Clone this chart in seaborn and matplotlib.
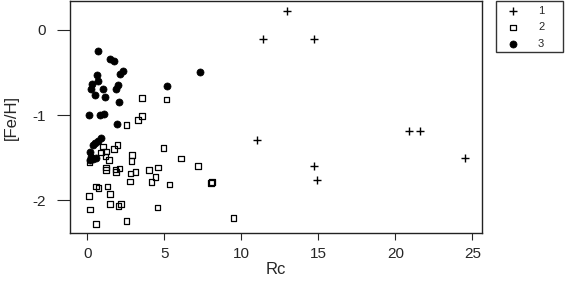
import matplotlib
matplotlib.use("Agg")
import matplotlib.pyplot as plt
from matplotlib.patches import Rectangle
import seaborn as sns
import pandas as pd

# group 1 (+)
rc1 = [13.0, 11.4, 14.7, 20.9, 21.6, 11.0, 14.7, 14.9, 24.5]
feh1 = [0.22, -0.11, -0.11, -1.19, -1.19, -1.29, -1.60, -1.76, -1.51]

# group 2 (open squares)
rc2 = [3.55, 5.15, 3.55, 3.29, 2.56, 1.95, 1.73, 1.04, 0.91, 1.23, 1.19, 1.41,
       0.16, 2.92, 2.86, 4.96, 6.10, 1.23, 1.23, 1.82, 2.10, 1.86, 2.82, 3.12,
       4.01, 4.59, 4.42, 4.16, 5.35, 2.77, 0.56, 0.74, 1.32, 0.11, 1.47, 1.49,
       2.04, 2.19, 0.19, 4.57, 0.58, 2.56, 7.19, 8.10, 8.05, 9.50]
feh2 = [-0.80, -0.82, -1.01, -1.06, -1.12, -1.35, -1.40, -1.37, -1.44, -1.43, -1.49, -1.53,
        -1.55, -1.47, -1.54, -1.39, -1.51, -1.62, -1.65, -1.64, -1.63, -1.67, -1.69, -1.67,
        -1.65, -1.62, -1.73, -1.79, -1.82, -1.78, -1.84, -1.86, -1.84, -1.95, -1.93, -2.05,
        -2.07, -2.05, -2.11, -2.09, -2.28, -2.25, -1.60, -1.79, -1.80, -2.21]

# group 3 (filled circles)
rc3 = [0.69, 1.45, 1.75, 2.30, 2.14, 0.62, 0.73, 0.28, 0.23, 1.05, 2.0, 1.84,
       0.52, 1.15, 2.07, 5.18, 7.33, 0.11, 0.82, 1.10, 1.90, 0.91, 0.69, 0.48,
       0.40, 0.16, 0.26, 0.58, 0.16, 0.40]
feh3 = [-0.25, -0.34, -0.37, -0.48, -0.52, -0.53, -0.60, -0.64, -0.69, -0.70, -0.65, -0.70,
        -0.76, -0.79, -0.85, -0.66, -0.50, -1.00, -1.00, -0.99, -1.11, -1.27, -1.30, -1.33,
        -1.35, -1.44, -1.49, -1.51, -1.53, -1.52]

xticks = [0, 5, 10, 15, 20, 25]
yticks = [0, -1, -2]

sns.set_style("white")
plt.rcParams['font.family'] = ['Liberation Sans', 'DejaVu Sans']

W, H = 566, 287
fig = plt.figure(figsize=(W / 100, H / 100), dpi=100)
ax = fig.add_axes([70 / W, 1 - 233 / H, (482 - 70) / W, (233 - 1) / H])

d1 = pd.DataFrame({"Rc": rc1, "FeH": feh1})
d2 = pd.DataFrame({"Rc": rc2, "FeH": feh2})
d3 = pd.DataFrame({"Rc": rc3, "FeH": feh3})

sns.scatterplot(data=d1, x="Rc", y="FeH", marker="+", s=30, color="black",
                linewidth=1.0, label="1", ax=ax)
sns.scatterplot(data=d2, x="Rc", y="FeH", marker="s", s=16, facecolor="none",
                edgecolor="black", linewidth=0.9, label="2", ax=ax)
sns.scatterplot(data=d3, x="Rc", y="FeH", marker="o", s=26, color="black",
                edgecolor="black", linewidth=0.5, label="3", ax=ax)

ax.set_xlim(-1.12, 25.63)
ax.set_ylim(-2.388, 0.341)
ax.set_xticks(xticks)
ax.set_yticks(yticks)
ax.set_xticklabels([str(t) for t in xticks])
ax.set_yticklabels([str(t) for t in yticks])
ax.tick_params(axis="x", length=5, width=0.8, pad=5, labelsize=11, direction="out", bottom=True)
ax.tick_params(axis="y", length=9.4, width=0.8, pad=8, labelsize=11, direction="out", left=True)
for sp in ax.spines.values():
    sp.set_color("#222222")
    sp.set_linewidth(1.0)

ax.set_xlabel("Rc", fontsize=12, labelpad=1)
ax.set_ylabel("[Fe/H]", fontsize=12, labelpad=10)

# legend outside the plot, R style box
handles, labels = ax.get_legend_handles_labels()
ax.get_legend().remove()
fig.legend(handles, labels, loc="upper left",
           bbox_to_anchor=(504 / W, 1 - 3 / H), bbox_transform=fig.transFigure,
           frameon=False, fontsize=8, borderpad=0.3,
           handletextpad=1.76, labelspacing=0.55, borderaxespad=0,
           handlelength=1.0)
fig.add_artist(Rectangle((496 / W, 1 - 52 / H), 67 / W, 51 / H, transform=fig.transFigure,
                         fill=False, edgecolor="#333333", linewidth=1.0))

fig.savefig("out.png", dpi=100)
